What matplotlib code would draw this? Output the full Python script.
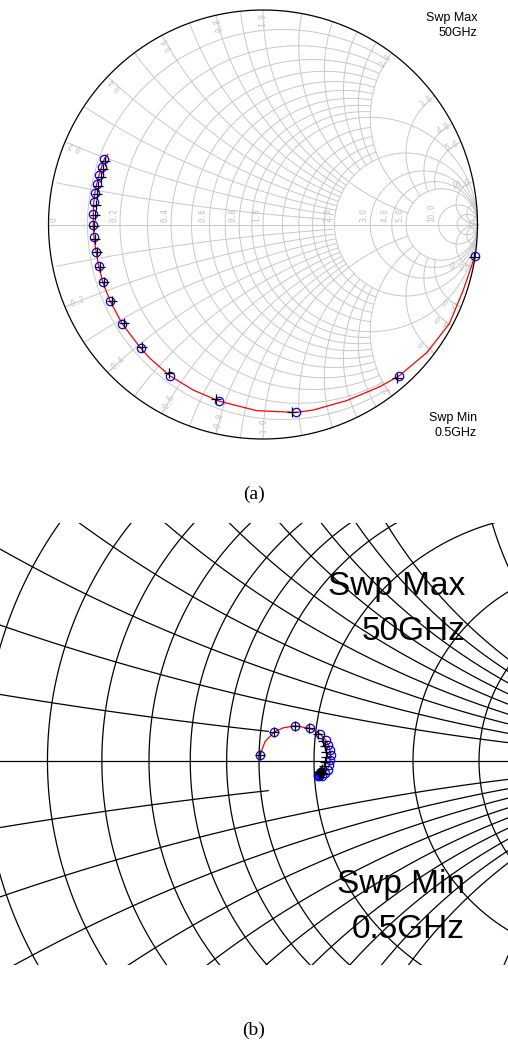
import numpy as np
import matplotlib
matplotlib.use("Agg")
import matplotlib.pyplot as plt

# (a) reflection coefficient, 0.5 GHz -> 50 GHz
meas_a_re = [0.988, 0.634, 0.154, -0.203, -0.433, -0.570, -0.657, -0.712, -0.747, -0.766,
             -0.778, -0.788, -0.791, -0.791, -0.789, -0.784, -0.775, -0.764, -0.752, -0.740]
meas_a_im = [-0.147, -0.706, -0.876, -0.824, -0.706, -0.577, -0.462, -0.358, -0.269, -0.192,
             -0.126, -0.060, -0.002, 0.051, 0.103, 0.148, 0.189, 0.231, 0.269, 0.305]
plus_a_re = [0.986, 0.624, 0.133, -0.220, -0.436, -0.565, -0.648, -0.704, -0.741, -0.760,
             -0.774, -0.782, -0.786, -0.784, -0.780, -0.775, -0.769, -0.757, -0.746, -0.735]
plus_a_im = [-0.152, -0.717, -0.876, -0.814, -0.694, -0.569, -0.458, -0.357, -0.269, -0.196,
             -0.130, -0.067, -0.007, 0.044, 0.092, 0.142, 0.179, 0.221, 0.261, 0.296]
sim_a_re = [0.988, 0.934, 0.869, 0.764, 0.634, 0.545, 0.390, 0.234, 0.154, -0.029, -0.203,
            -0.325, -0.433, -0.527, -0.570, -0.657, -0.712, -0.747, -0.766, -0.778, -0.788,
            -0.791, -0.791, -0.789, -0.784, -0.775, -0.764, -0.752, -0.740, -0.724]
sim_a_im = [-0.147, -0.305, -0.462, -0.597, -0.706, -0.756, -0.821, -0.865, -0.876, -0.868, -0.824,
            -0.772, -0.706, -0.624, -0.577, -0.462, -0.358, -0.269, -0.192, -0.126, -0.060,
            -0.002, 0.051, 0.103, 0.148, 0.189, 0.231, 0.269, 0.305, 0.327]

# (b) zoomed chart, data near the centre
meas_b_re = [-0.109, -0.080, -0.038, -0.008, 0.012, 0.024, 0.029, 0.032, 0.034, 0.032,
             0.031, 0.028, 0.022, 0.016, 0.011, 0.008, 0.009, 0.011, 0.013, 0.015]
meas_b_im = [0.012, 0.059, 0.071, 0.066, 0.055, 0.042, 0.032, 0.022, 0.012, 0.002,
             -0.008, -0.018, -0.025, -0.030, -0.031, -0.030, -0.028, -0.026, -0.024, -0.023]
plus_b_re = [-0.109, -0.080, -0.038, -0.010, 0.008, 0.018, 0.022, 0.024, 0.024, 0.023,
             0.020, 0.017, 0.014, 0.012, 0.011, 0.010, 0.012, 0.014, 0.016, 0.018]
plus_b_im = [0.012, 0.059, 0.071, 0.067, 0.055, 0.040, 0.030, 0.018, 0.008, -0.002,
             -0.010, -0.016, -0.020, -0.023, -0.024, -0.025, -0.026, -0.026, -0.025, -0.024]
sim_b_re = [-0.109, -0.099, -0.080, -0.062, -0.038, -0.008, 0.012, 0.024, 0.030, 0.033,
            0.034, 0.032, 0.027, 0.020, 0.012, 0.008]
sim_b_im = [0.012, 0.039, 0.059, 0.067, 0.071, 0.066, 0.055, 0.042, 0.030, 0.018,
            0.006, -0.006, -0.017, -0.026, -0.031, -0.030]

# grid of chart (a): (value, clip limit)
r_grid_a = [(v, 2.0) for v in [0.1, 0.2, 0.3, 0.4, 0.5, 0.6, 0.7, 0.8, 0.9]] + \
           [(1.0, np.inf)] + [(v, 2.0) for v in [1.2, 1.4, 1.6, 1.8]] + \
           [(v, np.inf) for v in [2.0, 3.0, 4.0, 5.0, 10.0, 20.0, 50.0]]
x_grid_a = [(v, 2.0) for v in [0.1, 0.2, 0.3, 0.4, 0.5, 0.6, 0.7, 0.8, 0.9]] + \
           [(1.0, 5.0)] + [(v, 2.0) for v in [1.2, 1.4, 1.6, 1.8]] + \
           [(v, 5.0) for v in [2.0, 3.0, 4.0, 5.0]] + [(v, np.inf) for v in [10.0, 20.0, 50.0]]
r_labels = [0.2, 0.4, 0.6, 0.8, 1.0, 2.0, 3.0, 4.0, 5.0, 10.0]
x_labels = [0.2, 0.4, 0.6, 0.8, 1.0, 2.0, 3.0, 4.0, 5.0, 10.0]

# grid of chart (b)
r_grid_b = [(v, np.inf) for v in [0.2, 0.3, 0.4, 0.5, 0.6, 0.7, 0.8, 1.0, 1.5, 2.0, 3.0]]
x_grid_b = [(0.1, 0.85)] + [(v, np.inf) for v in [0.2, 0.3, 0.4, 0.5, 0.6, 0.7, 0.8, 0.9, 1.0, 1.5, 2.0]]


def z_of(g):
    with np.errstate(divide='ignore', invalid='ignore'):
        return (1 + g) / (1 - g)


def r_circle(ax, r, xmax, **kw):
    phi = np.linspace(0, 2 * np.pi, 3000)
    g = r / (1 + r) + np.exp(1j * phi) / (1 + r)
    if np.isfinite(xmax):
        g = np.where(np.abs(z_of(g).imag) <= xmax, g, np.nan)
    ax.plot(g.real, g.imag, **kw)


def x_arc(ax, x, rmax, **kw):
    phi = np.linspace(0, 2 * np.pi, 3000)
    for s in (1, -1):
        g = 1 + 1j * s / x + np.exp(1j * phi) / x
        keep = np.abs(g) <= 1.0
        if np.isfinite(rmax):
            keep &= z_of(g).real <= rmax
        g = np.where(keep, g, np.nan)
        ax.plot(g.real, g.imag, **kw)


W, H = 508, 1057
fig = plt.figure(figsize=(W / 100, H / 100), dpi=100)

# ---------------- (a) ----------------
R = 214.5
cx, cy = 263, 224.5
ax = fig.add_axes([0, 1 - 460 / H, 1, 460 / H])
ax.set_xlim(-cx / R, (W - cx) / R)
ax.set_ylim((cy - 460) / R, cy / R)
ax.axis('off')

grid_kw = dict(color='#c8c8c8', lw=0.7, zorder=1)
for r, lim in r_grid_a:
    r_circle(ax, r, lim, **grid_kw)
for x, lim in x_grid_a:
    x_arc(ax, x, lim, **grid_kw)
ax.plot([-1, 1], [0, 0], **grid_kw)
t = np.linspace(0, 2 * np.pi, 720)
ax.plot(np.cos(t), np.sin(t), color='black', lw=0.9, zorder=2)

lab_kw = dict(color='#c0c0c0', fontsize=5.5, family='DejaVu Sans Mono')
ax.text(-0.975, 0.01, '0', rotation=90, ha='center', va='bottom', **lab_kw)
for r in r_labels:
    gx = (r - 1) / (r + 1)
    ax.text(gx - 0.03, 0.01, f'{r:.1f}', rotation=90, ha='center', va='bottom', **lab_kw)
for x in x_labels:
    for s in (1, -1):
        th = np.arctan2(2 * x * s, x * x - 1)
        px, py = 0.985 * np.cos(th), 0.985 * np.sin(th)
        if s > 0:
            ax.text(px, py, f'{x:.1f}', rotation=np.degrees(th), rotation_mode='anchor',
                    ha='right', va='center', **lab_kw)
        else:
            ax.text(px, py, f'-{x:.1f}', rotation=np.degrees(th) + 180, rotation_mode='anchor',
                    ha='left', va='center', **lab_kw)

ax.plot(sim_a_re, sim_a_im, color='red', lw=0.9, zorder=3)
ax.plot(meas_a_re, meas_a_im, 'o', ms=6, mfc='none', mec='blue', mew=0.9, zorder=4)
ax.plot(plus_a_re, plus_a_im, '+', ms=7, color='black', mew=0.9, zorder=5)

txt = dict(family='Liberation Sans', color='black')
fig.text(477 / W, 1 - 18 / H, 'Swp Max', ha='right', va='center', fontsize=9, **txt)
fig.text(477 / W, 1 - 33 / H, '50GHz', ha='right', va='center', fontsize=9, **txt)
fig.text(477 / W, 1 - 418 / H, 'Swp Min', ha='right', va='center', fontsize=9, **txt)
fig.text(477 / W, 1 - 433 / H, '0.5GHz', ha='right', va='center', fontsize=9, **txt)
fig.text(254 / W, 1 - 494 / H, '(a)', ha='center', va='center', fontsize=14, family='Liberation Serif')

# ---------------- (b) ----------------
Rb = 495.0
cxb, cyb = 314, 761
top, bot = 523, 965
axb = fig.add_axes([0, 1 - bot / H, 1, (bot - top) / H])
axb.set_xlim(-cxb / Rb, (W - cxb) / Rb)
axb.set_ylim((cyb - bot) / Rb, (cyb - top) / Rb)
axb.axis('off')

gb_kw = dict(color='black', lw=0.9, zorder=1)
for r, lim in r_grid_b:
    r_circle(axb, r, lim, **gb_kw)
for x, lim in x_grid_b:
    x_arc(axb, x, lim, **gb_kw)
axb.plot([-1, 1], [0, 0], **gb_kw)

axb.plot(sim_b_re, sim_b_im, color='red', lw=0.9, zorder=3)
axb.plot(meas_b_re, meas_b_im, 'o', ms=6, mfc='none', mec='blue', mew=0.9, zorder=4)
axb.plot(plus_b_re, plus_b_im, '+', ms=7, color='black', mew=0.9, zorder=5)

fig.text(465 / W, 1 - 587 / H, 'Swp Max', ha='right', va='center', fontsize=24, **txt)
fig.text(465 / W, 1 - 632 / H, '50GHz', ha='right', va='center', fontsize=24, **txt)
fig.text(465 / W, 1 - 884 / H, 'Swp Min', ha='right', va='center', fontsize=24, **txt)
fig.text(465 / W, 1 - 930 / H, '0.5GHz', ha='right', va='center', fontsize=24, **txt)
fig.text(254 / W, 1 - 1030 / H, '(b)', ha='center', va='center', fontsize=14, family='Liberation Serif')

fig.savefig('out.png', dpi=100)
